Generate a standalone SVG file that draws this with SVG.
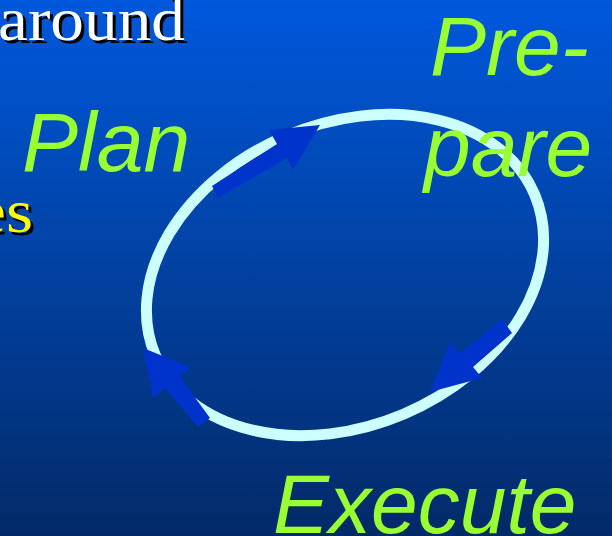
<svg xmlns="http://www.w3.org/2000/svg" width="612" height="536" viewBox="0 0 612 536">
  <defs>
    <linearGradient id="bg" x1="0" y1="0" x2="0" y2="1">
      <stop offset="0" stop-color="#0058dc"/>
      <stop offset="1" stop-color="#032a68"/>
    </linearGradient>
    <style>
      .label { font-family: "Liberation Sans", Arial, sans-serif; font-style: italic; font-size: 84px; fill: #99ff33; }
      .serif { font-family: "Liberation Serif", "Times New Roman", serif; font-size: 62px; }
      .shadow { fill: #000000; }
      .arrow { fill: #0033cc; stroke: none; }
      .ring { fill: none; stroke: #ccffff; stroke-width: 11; }
    </style>
  </defs>
  <rect x="0" y="0" width="612" height="536" fill="url(#bg)"/>

  <g id="bullet-text">
    <text class="serif shadow" x="1" y="43" textLength="187" lengthAdjust="spacingAndGlyphs">around</text>
    <text class="serif" x="-2" y="40" fill="#ffffff" textLength="187" lengthAdjust="spacingAndGlyphs">around</text>
    <text class="serif shadow" x="-22" y="235" textLength="58" lengthAdjust="spacingAndGlyphs">es</text>
    <text class="serif" x="-25" y="232" fill="#ffff00" textLength="58" lengthAdjust="spacingAndGlyphs">es</text>
  </g>

  <g id="connectors">
    <ellipse class="ring" cx="345" cy="275" rx="206" ry="151" transform="rotate(-23 345 275)"/>
    <polygon class="arrow" points="212,186 277,144 269,130 320,125 293,170 287,158 218,198"/>
    <polygon class="arrow" points="502,319 460,353 450,342 430,392 482,378 473,367 512,333"/>
    <polygon class="arrow" points="143,348 190,367 180,377 210,418 198,427 165,388 153,398"/>
  </g>

  <g id="node-plan">
    <text class="label" x="22" y="171">Plan</text>
  </g>
  <g id="node-prepare">
    <text class="label" x="430" y="75">Pre-</text>
    <text class="label" x="424" y="176">pare</text>
  </g>
  <g id="node-execute">
    <text class="label" x="273" y="533">Execute</text>
  </g>
</svg>
